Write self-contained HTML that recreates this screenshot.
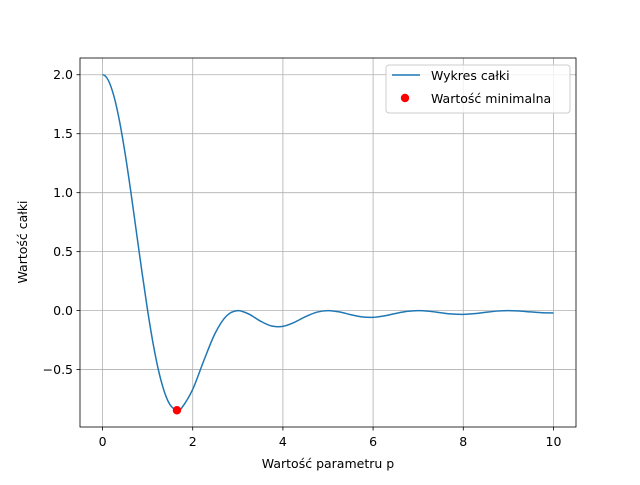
<!DOCTYPE html>
<html><head><meta charset="utf-8"><style>
body{margin:0;background:#fff;}
svg text{font-family:"DejaVu Sans","Liberation Sans",sans-serif;font-size:12.5px;fill:#000;}
</style></head><body>
<svg id="chart" width="640" height="480">
<rect x="0" y="0" width="640" height="480" fill="#fff"/>
<g id="grid"></g>
<g id="ticks"></g>
<path id="curve" fill="none" stroke="#1f77b4" stroke-width="1.5"/>
<circle id="minpt" r="4.2" fill="red"/>
<rect x="80" y="58" width="496" height="369" fill="none" stroke="#000" stroke-width="0.8"/>
<text x="328" y="468" text-anchor="middle">Wartość parametru p</text>
<text transform="translate(27,242) rotate(-90)" text-anchor="middle">Wartość całki</text>
<g>
<rect x="386" y="65" width="184" height="48" rx="3" fill="#fff" fill-opacity="0.8" stroke="#ccc" stroke-width="1"/>
<line x1="392" y1="75" x2="420" y2="75" stroke="#1f77b4" stroke-width="1.5"/>
<text x="431" y="80">Wykres całki</text>
<circle cx="405" cy="98" r="4.2" fill="red"/>
<text x="431" y="103">Wartość minimalna</text>
</g>
</svg>
<script>
const xs=[0,0.125,0.25,0.375,0.5,0.625,0.75,0.875,1,1.125,1.25,1.375,1.5,1.65,1.75,2,2.25,2.5,2.75,3,3.25,3.5,3.75,4,4.25,4.5,4.75,5,5.25,5.5,5.75,6,6.25,6.5,6.75,7,7.25,7.5,7.75,8,8.25,8.5,8.75,9,9.25,9.5,9.75,10];
const ys=[2,1.955,1.821,1.609,1.333,1.013,0.669,0.325,0,-0.287,-0.521,-0.693,-0.8,-0.845,-0.828,-0.667,-0.42,-0.19,-0.0446,0,-0.0306,-0.0889,-0.1307,-0.1333,-0.1,-0.052,-0.0136,0,-0.011,-0.0342,-0.0532,-0.0571,-0.0449,-0.0242,-0.0066,0,-0.0057,-0.0181,-0.0289,-0.0317,-0.0255,-0.014,-0.0039,0,-0.0036,-0.0112,-0.0181,-0.0202];
const minX=1.65, minY=-0.845;
const xTicks=[0,2,4,6,8,10];
const yTicks=[-0.5,0,0.5,1,1.5,2];
const yTickLabels=["−0.5","0.0","0.5","1.0","1.5","2.0"];
const X=v=>80+(v+0.5)/11*496;
const Y=v=>58+(2.142-v)/3.129*369;
const NS="http://www.w3.org/2000/svg";
const grid=document.getElementById('grid'),ticks=document.getElementById('ticks');
function mk(tag,at,parent){const e=document.createElementNS(NS,tag);for(const k in at)e.setAttribute(k,at[k]);parent.appendChild(e);return e;}
xTicks.forEach(t=>{
 const gl=mk('line',{x1:X(t),x2:X(t),y1:58,y2:427,stroke:'#b0b0b0','stroke-width':0.8},grid);
 
 
 mk('line',{x1:X(t),x2:X(t),y1:427,y2:430.5,stroke:'#000','stroke-width':0.8},ticks);
 const tx=mk('text',{x:X(t),y:446,'text-anchor':'middle'},ticks);tx.textContent=t;
 
 
});
yTicks.forEach((t,i)=>{
 const gl=mk('line',{x1:80,x2:576,y1:Y(t),y2:Y(t),stroke:'#b0b0b0','stroke-width':0.8},grid);
 
 
 mk('line',{x1:76.5,x2:80,y1:Y(t),y2:Y(t),stroke:'#000','stroke-width':0.8},ticks);
 const tx=mk('text',{x:73,y:Y(t)+4.5,'text-anchor':'end'},ticks);tx.textContent=yTickLabels[i];
 
 
});
const P=xs.map((x,i)=>[X(x),Y(ys[i])]);
let d='M'+P[0][0]+','+P[0][1];
for(let i=0;i<P.length-1;i++){
 const p0=P[Math.max(0,i-1)],p1=P[i],p2=P[i+1],p3=P[Math.min(P.length-1,i+2)];
 const h=p2[0]-p1[0];
 const s1=i===0?0:(p2[1]-p0[1])/(p2[0]-p0[0]);
 const s2=(p3[1]-p1[1])/((p3[0]-p1[0])||1);
 d+=` C${p1[0]+h/3},${p1[1]+s1*h/3} ${p2[0]-h/3},${p2[1]-s2*h/3} ${p2[0]},${p2[1]}`;
}
document.getElementById('curve').setAttribute('d',d);
const m=document.getElementById('minpt');m.setAttribute('cx',X(minX));m.setAttribute('cy',Y(minY));
</script>
</body></html>
